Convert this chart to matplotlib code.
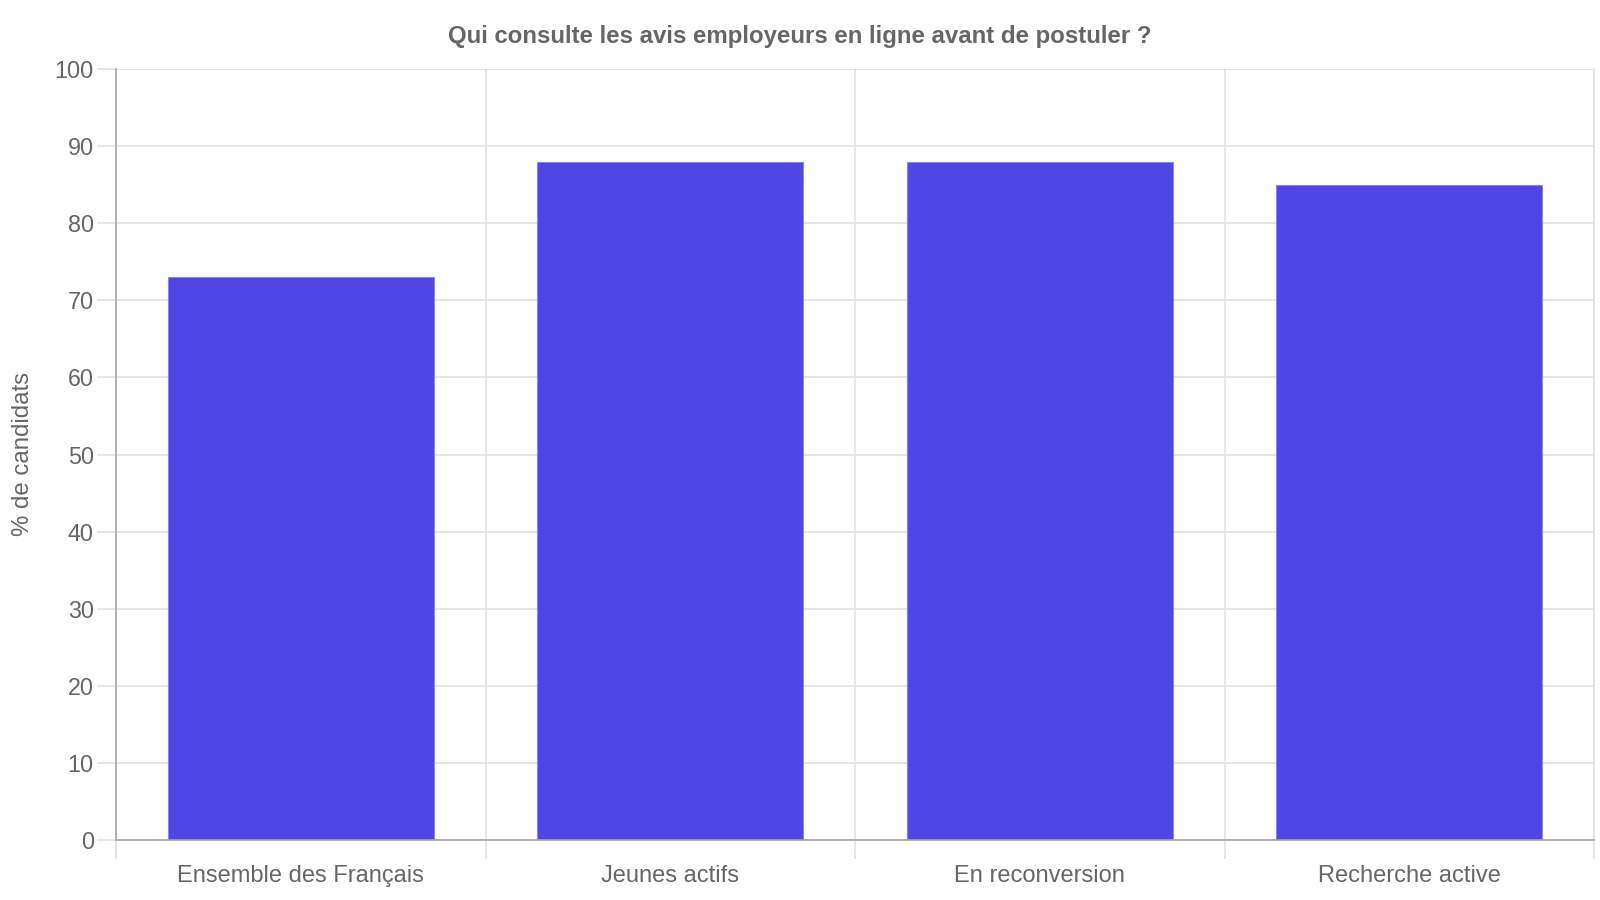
import matplotlib
matplotlib.use("Agg")
import matplotlib.pyplot as plt
import numpy as np

categories = ["Ensemble des Français", "Jeunes actifs", "En reconversion", "Recherche active"]
values = [73, 88, 88, 85]
yticks = [0, 10, 20, 30, 40, 50, 60, 70, 80, 90, 100]

title = "Qui consulte les avis employeurs en ligne avant de postuler ?"
ylabel = "% de candidats"

plt.rcParams['font.family'] = ['Liberation Sans', 'DejaVu Sans']
text_color = '#666666'
grid_color = '#e2e2e2'
axis_color = '#a6a6a6'
bar_color = '#4F46E5'

fig = plt.figure(figsize=(16, 9), dpi=100)
L, R, T, B = 116, 1594, 69, 840
ax = fig.add_axes([L/1600, 1 - B/900, (R-L)/1600, (B-T)/900])

x = np.arange(len(categories))
ax.bar(x, values, width=0.72, color=bar_color, edgecolor='#8a85ee', linewidth=0.8, zorder=3)

ax.set_xlim(-0.5, len(categories) - 0.5)
ax.set_ylim(0, 100)
ax.set_yticks(yticks)
ax.set_yticklabels([str(v) for v in yticks])
ax.set_xticks(x)
ax.set_xticklabels(categories)
ax.set_xticks(np.arange(len(categories) + 1) - 0.5, minor=True)

ax.tick_params(axis='y', length=14, width=1.2, color=grid_color, labelsize=16.8,
               labelcolor=text_color, pad=2)
ax.tick_params(axis='x', which='major', length=0, labelsize=17,
               labelcolor=text_color, pad=18)
ax.tick_params(axis='x', which='minor', length=14, width=1.2, color=grid_color)

ax.grid(axis='y', which='major', color=grid_color, linewidth=1.2, zorder=0)
ax.grid(axis='x', which='minor', color=grid_color, linewidth=1.2, zorder=0)
ax.set_axisbelow(True)

ax.spines['top'].set_visible(False)
ax.spines['right'].set_color(grid_color)
ax.spines['right'].set_linewidth(1.2)
ax.spines['left'].set_color(axis_color)
ax.spines['left'].set_linewidth(1.2)
ax.spines['bottom'].set_color(axis_color)
ax.spines['bottom'].set_linewidth(1.2)
ax.spines['bottom'].set_zorder(4)

ax.set_ylabel(ylabel, fontsize=17.3, color=text_color)
ax.yaxis.set_label_coords((23 - L) / (R - L), 0.5)
ax.yaxis.label.set_va('center')

fig.text(800/1600, 1 - 37/900, title, ha='center', va='center', fontsize=17.3,
         fontweight='bold', color=text_color)

fig.savefig("out.png", dpi=100, facecolor='white')
